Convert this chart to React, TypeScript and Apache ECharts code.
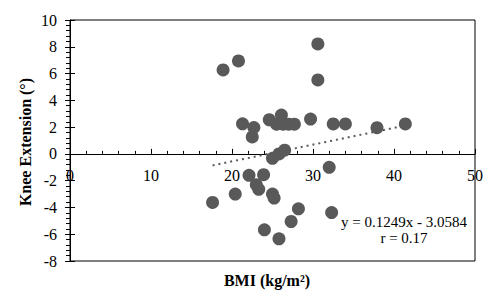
import { useEffect, useRef } from "react";
import * as echarts from "echarts";

// BMI (kg/m²) values of each subject
const bmi = [
  18.9, 20.8, 21.3, 22.7, 22.5, 24.6, 26.1, 25.5, 26.3, 27.0, 27.7, 29.7,
  32.5, 34.0, 37.9, 41.4, 30.6, 30.6, 25.0, 25.8, 26.5, 32.0, 22.1, 23.9,
  23.0, 23.3, 25.0, 25.2, 20.4, 17.6, 28.2, 27.3, 24.0, 25.8, 32.3,
];
// Knee extension (°) values of each subject
const kneeExtension = [
  6.27, 6.94, 2.25, 1.97, 1.27, 2.55, 2.9, 2.22, 2.22, 2.22, 2.22, 2.6,
  2.24, 2.24, 1.96, 2.24, 8.21, 5.52, -0.33, 0.0, 0.28, -1.0, -1.6, -1.55,
  -2.3, -2.65, -3.0, -3.3, -3.0, -3.63, -4.1, -5.05, -5.67, -6.34, -4.38,
];
// Linear trend line end points
const trendBmi = [17.6, 41.5];
const trendKnee = [-0.86, 2.13];

const xAxisTitle = "BMI (kg/m²)";
const yAxisTitle = "Knee Extension (°)";
const equationText = "y = 0.1249x - 3.0584";
const rText = "r = 0.17";

const X_MIN = 0;
const X_MAX = 50;
const Y_MIN = -8;
const Y_MAX = 10;

export default function App() {
  const ref = useRef<HTMLDivElement>(null);
  useEffect(() => {
    const chart = echarts.init(ref.current!, null, { renderer: "svg" });
    const font = "Liberation Serif";
    const pointColor = "#595959";
    const top = 20;
    const bottom = 42;
    const plotH = 303 - top - bottom;
    // move the x axis up to the y = 0 line
    const zeroOffset = -(plotH * (0 - Y_MIN)) / (Y_MAX - Y_MIN);
    chart.setOption({
      animation: false,
      grid: {
        left: 70,
        top,
        right: 19,
        bottom,
        show: true,
        borderColor: "#000",
        borderWidth: 1,
        backgroundColor: "transparent",
      },
      xAxis: {
        type: "value",
        min: X_MIN,
        max: X_MAX,
        interval: 10,
        position: "bottom",
        offset: zeroOffset,
        axisLine: { show: true, onZero: false, lineStyle: { color: "#000", width: 1 } },
        axisTick: { show: true, inside: true, length: 5, lineStyle: { color: "#000" } },
        minorTick: { show: true, splitNumber: 5, length: 3, lineStyle: { color: "#000" } },
        axisLabel: { color: "#000", fontFamily: font, fontSize: 16, margin: 14 },
        splitLine: { show: false },
      },
      yAxis: [
        {
          type: "value",
          min: Y_MIN,
          max: Y_MAX,
          interval: 2,
          position: "left",
          axisLine: { show: true, onZero: false, lineStyle: { color: "#000", width: 1 } },
          axisTick: { show: true, length: 5, lineStyle: { color: "#000" } },
          minorTick: { show: true, splitNumber: 5, length: 4, lineStyle: { color: "#000" } },
          axisLabel: { color: "#000", fontFamily: font, fontSize: 16, margin: 13 },
          splitLine: { show: false },
        },
        {
          type: "value",
          min: Y_MIN,
          max: Y_MAX,
          interval: 2,
          position: "left",
          axisLine: { show: false, onZero: false },
          axisTick: { show: true, inside: true, length: 5, lineStyle: { color: "#000" } },
          axisLabel: { show: false },
          splitLine: { show: false },
        },
      ],
      series: [
        {
          type: "line",
          data: trendBmi.map((x, i) => [x, trendKnee[i]]),
          symbol: "none",
          lineStyle: { color: pointColor, width: 2, type: [2, 4] },
          z: 1,
          silent: true,
        },
        {
          type: "scatter",
          data: bmi.map((x, i) => [x, kneeExtension[i]]),
          symbol: "circle",
          symbolSize: 13,
          itemStyle: { color: pointColor, opacity: 1 },
          z: 2,
        },
      ],
      graphic: [
        {
          type: "text",
          x: 267,
          y: 280,
          style: {
            text: xAxisTitle,
            font: `bold 16px ${font}`,
            fill: "#000",
            textAlign: "center",
            textVerticalAlign: "middle",
          },
        },
        {
          type: "text",
          x: 25,
          y: 142,
          rotation: Math.PI / 2,
          style: {
            text: yAxisTitle,
            font: `bold 16px ${font}`,
            fill: "#000",
            textAlign: "center",
            textVerticalAlign: "middle",
          },
        },
        {
          type: "text",
          x: 404,
          y: 222,
          style: {
            text: equationText,
            font: `15px ${font}`,
            fill: "#000",
            textAlign: "center",
            textVerticalAlign: "middle",
          },
        },
        {
          type: "text",
          x: 404,
          y: 238,
          style: {
            text: rText,
            font: `15px ${font}`,
            fill: "#000",
            textAlign: "center",
            textVerticalAlign: "middle",
          },
        },
      ],
    });
    return () => chart.dispose();
  }, []);
  return (
    <div
      ref={ref}
      style={{ position: "fixed", left: 0, top: 0, width: 494, height: 303, background: "#fff" }}
    />
  );
}
